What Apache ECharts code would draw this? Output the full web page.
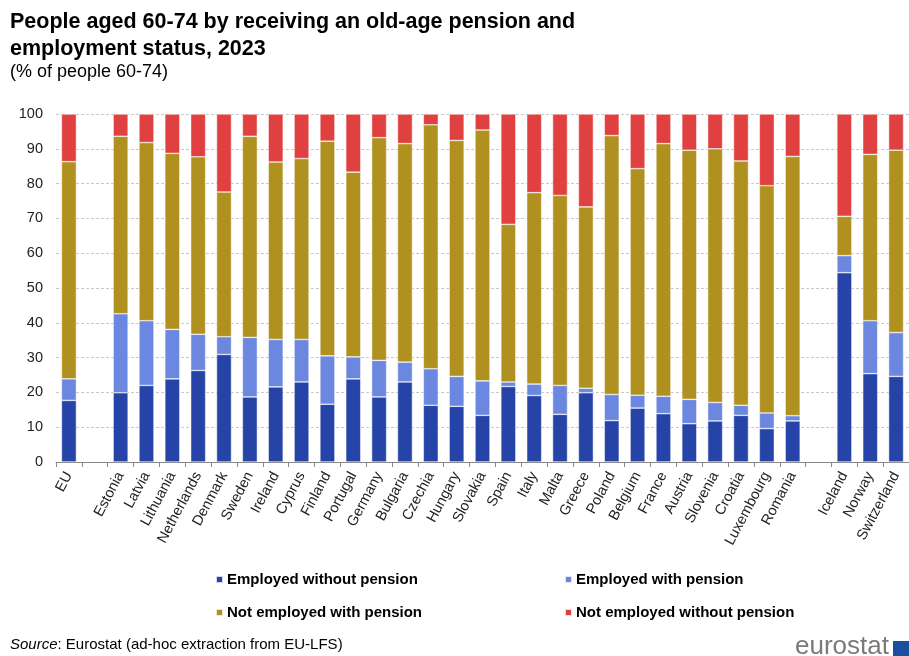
<!DOCTYPE html>
<html>
<head>
<meta charset="utf-8">
<script src="https://cdn.jsdelivr.net/npm/echarts@6/dist/echarts.min.js"></script>
<style>html,body{margin:0;padding:0;background:#fff}#c{width:909px;height:656px}</style>
</head>
<body>
<div id="c"></div>
<script>
var categories = ['EU',' ','Estonia','Latvia','Lithuania','Netherlands','Denmark','Sweden','Ireland','Cyprus','Finland','Portugal','Germany','Bulgaria','Czechia','Hungary','Slovakia','Spain','Italy','Malta','Greece','Poland','Belgium','France','Austria','Slovenia','Croatia','Luxembourg','Romania','  ','Iceland','Norway','Switzerland'];
var employedWithout = [17.7,null,19.9,22.0,23.9,26.3,30.9,18.7,21.6,23.0,16.6,23.9,18.7,23.0,16.3,16.0,13.4,21.7,19.1,13.7,19.9,11.9,15.5,13.9,11.0,11.8,13.4,9.6,11.8,null,54.4,25.4,24.6];
var employedWith = [6.2,null,22.7,18.6,14.2,10.4,5.1,17.1,13.6,12.2,13.9,6.3,10.5,5.7,10.5,8.6,9.9,1.3,3.3,8.3,1.3,7.5,3.7,5.0,7.0,5.3,2.9,4.5,1.5,null,4.9,15.2,12.6];
var notEmployedWith = [62.4,null,51.0,51.2,50.6,51.0,41.6,57.8,51.0,52.0,61.7,53.1,64.0,62.8,70.1,67.8,72.1,45.3,55.0,54.6,52.1,74.4,65.1,72.6,71.6,72.9,70.2,65.3,74.5,null,11.3,47.8,52.4];
var notEmployedWithout = [13.7,null,6.4,8.2,11.3,12.3,22.4,6.4,13.8,12.8,7.8,16.7,6.8,8.5,3.1,7.6,4.6,31.7,22.6,23.4,26.7,6.2,15.7,8.5,10.4,10.0,13.5,20.6,12.2,null,29.4,11.6,10.4];
var seriesNames = ['Employed without pension','Employed with pension','Not employed with pension','Not employed without pension'];
var yTicks = [0,10,20,30,40,50,60,70,80,90,100];

var colors = ['#2644A7','#6B87DF','#B09120','#E04040'];
var FONT = 'Liberation Sans, Arial, sans-serif';
var chart = echarts.init(document.getElementById('c'), null, {renderer:'canvas'});
var datasets = [employedWithout, employedWith, notEmployedWith, notEmployedWithout];
var series = datasets.map(function(d,i){
  return {
    name: seriesNames[i], type:'bar', stack:'s', data:d, barWidth:15,
    itemStyle:{color:colors[i], borderColor:'rgba(255,255,255,0.8)', borderWidth:0.6},
    emphasis:{disabled:true}
  };
});
var legendPos = [[210,567],[559,567],[210,600],[559,600]];
var legends = seriesNames.map(function(n,i){
  return {data:[n], left:legendPos[i][0], top:legendPos[i][1], icon:'rect', itemWidth:7, itemHeight:7, itemGap:5, padding:5,
    textStyle:{fontFamily:FONT, fontWeight:'bold', fontSize:15, color:'#000', padding:[0,0,0,-1]}, selectedMode:false};
});
chart.setOption({
  animation:false,
  color:colors,
  title:[
    {text:'People aged 60-74 by receiving an old-age pension and\nemployment status, 2023', left:10, top:9, padding:0,
     textStyle:{fontFamily:FONT, fontWeight:'bold', fontSize:21.5, color:'#000', lineHeight:27}},
    {text:'(% of people 60-74)', left:10, top:63, padding:0, textStyle:{fontFamily:FONT, fontWeight:'normal', fontSize:18, color:'#000'}}
  ],
  legend: legends,
  grid:{left:56, right:-12, top:114, bottom:194, containLabel:false},
  xAxis:{type:'category', data:categories,
    axisLine:{lineStyle:{color:'#888', width:1}},
    axisTick:{show:true, alignWithLabel:false, length:5, lineStyle:{color:'#888'}},
    axisLabel:{rotate:62, interval:0, fontFamily:FONT, fontSize:14.5, color:'#222', margin:11}},
  yAxis:{type:'value', min:0, max:100, interval:10,
    axisLine:{show:false}, axisTick:{show:false},
    axisLabel:{fontFamily:FONT, fontSize:14.5, color:'#222', margin:13,
      formatter:function(v){return yTicks.indexOf(v)>=0 ? String(v) : '';}},
    splitLine:{lineStyle:{color:'#c8c8c8', type:[3,2], width:1}}},
  series:series,
  graphic:[
    {type:'text', left:10, top:637, style:{text:'{i|Source}: Eurostat (ad-hoc extraction from EU-LFS)', rich:{i:{fontStyle:'italic', fontFamily:FONT, fontSize:15, fill:'#000'}}, fontFamily:FONT, fontSize:15, fill:'#000'}},
    {type:'text', left:795, top:634, style:{text:'eurostat', fontFamily:FONT, fontSize:26, fill:'#7a7a7a'}},
    {type:'rect', left:893, top:641, shape:{width:16, height:15}, style:{fill:'#1a4fa0'}}
  ]
});
</script>
</body>
</html>
